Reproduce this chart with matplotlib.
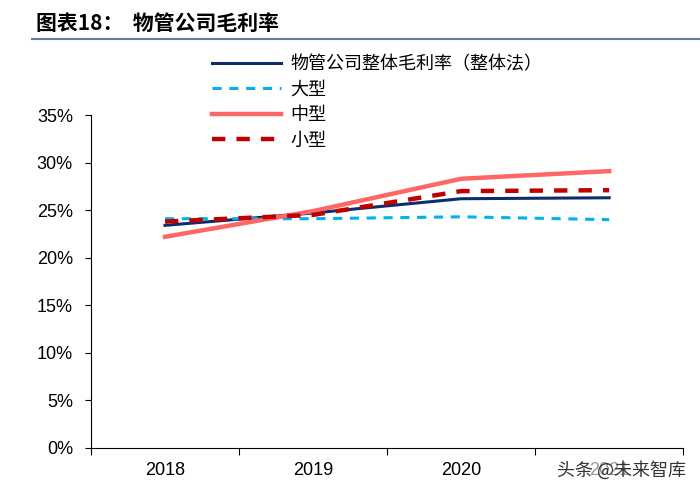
import numpy as np
import matplotlib.pyplot as plt
from matplotlib.lines import Line2D

plt.rcParams['font.family'] = ['Liberation Sans', 'Noto Sans CJK SC', 'DejaVu Sans']

years = ['2018', '2019', '2020', '2021']
overall = [23.4, 24.7, 26.2, 26.3]
large = [24.1, 24.1, 24.3, 24.0]
medium = [22.2, 24.9, 28.3, 29.1]
small = [23.8, 24.5, 27.0, 27.1]
names = ['物管公司整体毛利率（整体法）', '大型', '中型', '小型']

fig = plt.figure(figsize=(7, 5), dpi=100)
ax = fig.add_axes([0.13, 0.104, 0.846, 0.666])

x = np.arange(len(years))
ax.plot(x, overall, color='#0b2d6e', lw=2.2, label=names[0])
ax.plot(x, large, color='#00b0f0', lw=2.2, ls=(0, (3, 2.5)), label=names[1])
ax.plot(x, medium, color='#ff6666', lw=3.2, label=names[2])
ax.plot(x, small, color='#c00000', lw=3.2, ls=(0, (3, 2.5)), label=names[3])

ax.set_xlim(-0.5, len(years) - 0.5)
ax.set_ylim(0, 35)
ax.set_yticks(np.arange(0, 36, 5))
ax.set_yticklabels([f'{v}%' for v in range(0, 36, 5)], fontsize=13)
ax.set_xticks(np.arange(-0.5, len(years), 1))
ax.set_xticklabels([])
ax.set_xticks(x, minor=True)
ax.set_xticklabels(years, minor=True, fontsize=13)
ax.tick_params(axis='x', which='minor', length=0, pad=10)
ax.tick_params(axis='x', which='major', length=5, direction='out')
ax.tick_params(axis='y', length=4, direction='out', pad=9)
ax.spines['top'].set_visible(False)
ax.spines['right'].set_visible(False)

handles, labels = ax.get_legend_handles_labels()
fig.legend(handles, labels, loc='upper left', bbox_to_anchor=(0.29, 0.908),
           frameon=False, borderpad=0, handlelength=3.8, labelspacing=0.42,
           handletextpad=0.55, prop={'family': ['Noto Sans CJK SC'], 'size': 13})

fig.text(0.051, 0.954, '图表18：  物管公司毛利率', fontsize=15, fontweight='bold',
         family=['Noto Sans CJK SC'], va='center')
fig.add_artist(Line2D([0.046, 1.0], [0.922, 0.922], color='#5b7fa6', lw=1.5))

fig.text(0.796, 0.06, '头条 @未来智库', fontsize=13, color='#333333',
         family=['Noto Sans CJK SC'], va='center',
         bbox=dict(facecolor='white', alpha=0.6, edgecolor='none', pad=0))

fig.savefig('out.png', dpi=100)
